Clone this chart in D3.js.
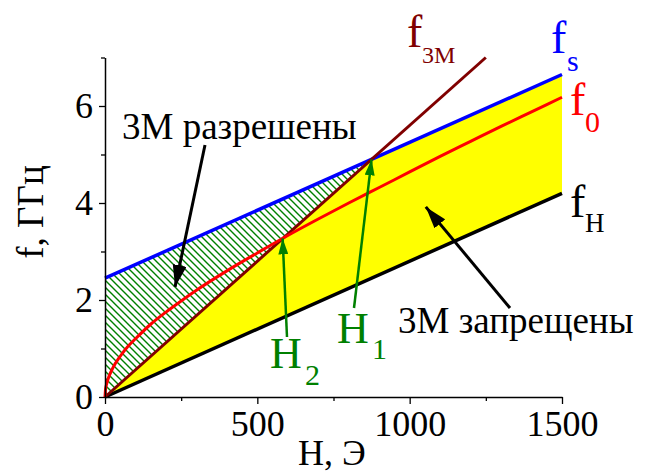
<!DOCTYPE html>
<html>
<head>
<meta charset="utf-8">
<script src="https://cdn.jsdelivr.net/npm/d3@7"></script>
</head>
<body style="margin:0">
<svg id="fig" width="653" height="472"></svg>
<script>
// Field axis (Oe) and the straight spectral boundaries (GHz)
const fieldEnds = [0, 1500];
const fH = [0, 4.2];          // lower edge of the spin-wave band
const fS = [2.45, 6.65];      // upper edge of the spin-wave band
const f3MField = [0, 1250];
const f3M = [0, 7.0];         // three-magnon threshold line

// Uniform-precession frequency f0 (Kittel curve)
const f0Field = [0, 2, 5, 10, 25, 50, 75, 100, 150, 200, 250, 300, 400, 500, 600, 700, 800, 900, 1000, 1100, 1200, 1300, 1400, 1500];
const f0 = [0, 0.17, 0.26, 0.37, 0.59, 0.84, 1.04, 1.20, 1.50, 1.75, 1.98, 2.20, 2.60, 2.97, 3.33, 3.67, 4.00, 4.32, 4.64, 4.96, 5.27, 5.58, 5.88, 6.18];

// Crossing fields H1 (f3M meets fs) and H2 (f3M meets f0)
const crossLabels = ["1", "2"];
const crossField = [875, 583];
const crossFreq = [4.9, 3.27];

// Axis ticks
const xMajor = [0, 500, 1000, 1500];
const xMinor = [250, 750, 1250];
const yMajor = [0, 2, 4, 6];
const yMinor = [1, 3, 5, 7];

const FONT = "'Liberation Serif', 'Times New Roman', serif";
const svg = d3.select("#fig").attr("font-family", FONT);
const x = d3.scaleLinear().domain([0, 1500]).range([105, 562]);
const y = d3.scaleLinear().domain([0, 7]).range([397, 57.5]);

// linear interpolators along the straight boundaries
const fsAt = d3.scaleLinear().domain(fieldEnds).range(fS);
const fhAt = d3.scaleLinear().domain(fieldEnds).range(fH);
const f3At = d3.scaleLinear().domain(f3MField).range(f3M);

const defs = svg.append("defs");
const pat = defs.append("pattern")
  .attr("id", "hatch").attr("patternUnits", "userSpaceOnUse")
  .attr("width", 7).attr("height", 7);
pat.append("path")
  .attr("d", "M0,0 L7,7 M-1,6 L1,8 M6,-1 L8,1")
  .attr("stroke", "#008000").attr("stroke-width", 1.4).attr("fill", "none");

function marker(id, color, len, half) {
  defs.append("marker")
    .attr("id", id).attr("markerUnits", "userSpaceOnUse")
    .attr("viewBox", `0 ${-half} ${len} ${2 * half}`)
    .attr("markerWidth", len).attr("markerHeight", 2 * half)
    .attr("refX", len).attr("refY", 0).attr("orient", "auto")
    .append("path").attr("d", `M0,${-half} L${len},0 L0,${half} Z`).attr("fill", color);
}
marker("headBlack", "#000", 22, 7);
marker("headGreen", "#008000", 16, 5);

const line = d3.line().x(d => x(d[0])).y(d => y(d[1]));

// Forbidden region (yellow): between fH and min(f3M, fs)
const h1 = crossField[0];
const yellow = [
  [0, fhAt(0)], [h1, f3At(h1)], [fieldEnds[1], fsAt(fieldEnds[1])],
  [fieldEnds[1], fhAt(fieldEnds[1])]
];
svg.append("path").attr("d", line(yellow) + "Z").attr("fill", "#ffff00");

// Allowed region (hatched): between f3M and fs, up to H1
const allowed = [[0, f3At(0)], [0, fsAt(0)], [h1, fsAt(h1)]];
svg.append("path").attr("d", line(allowed) + "Z").attr("fill", "url(#hatch)");

// Boundary curves
svg.append("path").attr("d", line(fieldEnds.map((h, i) => [h, fH[i]])))
  .attr("stroke", "#000").attr("stroke-width", 3.5).attr("fill", "none");
svg.append("path").attr("d", line(fieldEnds.map((h, i) => [h, fS[i]])))
  .attr("stroke", "#0000ff").attr("stroke-width", 3.5).attr("fill", "none");
svg.append("path").attr("d", line(f3MField.map((h, i) => [h, f3M[i]])))
  .attr("stroke", "#800000").attr("stroke-width", 3).attr("fill", "none");
svg.append("path")
  .attr("d", d3.line().x(d => x(d[0])).y(d => y(d[1])).curve(d3.curveMonotoneX)(f0Field.map((h, i) => [h, f0[i]])))
  .attr("stroke", "#ff0000").attr("stroke-width", 3).attr("fill", "none");

// serif face for every label, set inline so nothing else overrides it
function serif(sel) {
  sel.attr("font-family", FONT).each(function () {
    this.style.setProperty("font-family", FONT, "important");
  });
  return sel;
}

// Axes
function styleAxis(g) {
  g.attr("font-family", FONT);
  g.select(".domain").attr("stroke-width", 1.5);
  g.selectAll(".tick line").attr("stroke-width", 1.3);
  serif(g.selectAll("text")).attr("font-size", 36).attr("fill", "#000");
}
const gx = svg.append("g").attr("transform", "translate(0,397)")
  .call(d3.axisBottom(x).tickValues(xMajor).tickSize(7).tickPadding(6).tickSizeOuter(0).tickFormat(d3.format("d")));
styleAxis(gx);
svg.append("g").attr("transform", "translate(0,397)")
  .call(d3.axisBottom(x).tickValues(xMinor).tickSize(4).tickFormat("").tickSizeOuter(0))
  .call(g => g.select(".domain").remove())
  .selectAll(".tick line").attr("stroke-width", 1.3);
const gy = svg.append("g").attr("transform", "translate(105,0)")
  .call(d3.axisLeft(y).tickValues(yMajor).tickSize(6).tickPadding(6).tickSizeOuter(0).tickFormat(d3.format("d")));
styleAxis(gy);
svg.append("g").attr("transform", "translate(105,0)")
  .call(d3.axisLeft(y).tickValues(yMinor).tickSize(4).tickFormat("").tickSizeOuter(0))
  .call(g => g.select(".domain").remove())
  .selectAll(".tick line").attr("stroke-width", 1.3);

function txt(xp, yp, size, color, s) {
  return serif(svg.append("text").attr("x", xp).attr("y", yp)
    .attr("font-size", size).attr("fill", color).text(s));
}

// Axis titles
txt(332, 465, 36, "#000", "H, Э").attr("text-anchor", "middle");
txt(0, 0, 37, "#000", "f, ГГц").attr("text-anchor", "middle")
  .attr("transform", "translate(43,212) rotate(-90)");

// Curve labels: main letter plus subscript
function subLabel(color, fx, fy, sub, sx, sy, subSize, mainSize = 46, main = "f") {
  txt(fx, fy, mainSize, color, main);
  txt(sx, sy, subSize, color, sub);
}
subLabel("#800000", 407, 47, "3M", 422, 63, 24);
subLabel("#0000ff", 551, 53, "s", 567, 71, 30);
subLabel("#ff0000", 570, 115, "0", 585, 132, 30);
subLabel("#000000", 570, 217, "H", 585, 232, 27);

// Region annotations with arrows
txt(122, 139, 37, "#000", "3М разрешены");
svg.append("line").attr("x1", 205).attr("y1", 145).attr("x2", x(230)).attr("y2", y(2.27))
  .attr("stroke", "#000").attr("stroke-width", 3).attr("marker-end", "url(#headBlack)");
txt(398, 333, 37, "#000", "3М запрещены");
svg.append("line").attr("x1", 510).attr("y1", 308).attr("x2", x(1053)).attr("y2", y(3.92))
  .attr("stroke", "#000").attr("stroke-width", 3).attr("marker-end", "url(#headBlack)");

// H1 / H2 markers pointing at the crossings
const hLabelPos = [
  { tx: 354, ty: 308, lx: 337, ly: 343, sx: 372, sy: 359 },
  { tx: 287, ty: 337, lx: 270, ly: 368, sx: 305, sy: 385 }
];
crossLabels.forEach((lab, i) => {
  const p = hLabelPos[i];
  svg.append("line").attr("x1", p.tx).attr("y1", p.ty)
    .attr("x2", x(crossField[i])).attr("y2", y(crossFreq[i]))
    .attr("stroke", "#008000").attr("stroke-width", 2.5).attr("marker-end", "url(#headGreen)");
  subLabel("#008000", p.lx, p.ly, lab, p.sx, p.sy, 30, 44, "H");
});
</script>
</body>
</html>
